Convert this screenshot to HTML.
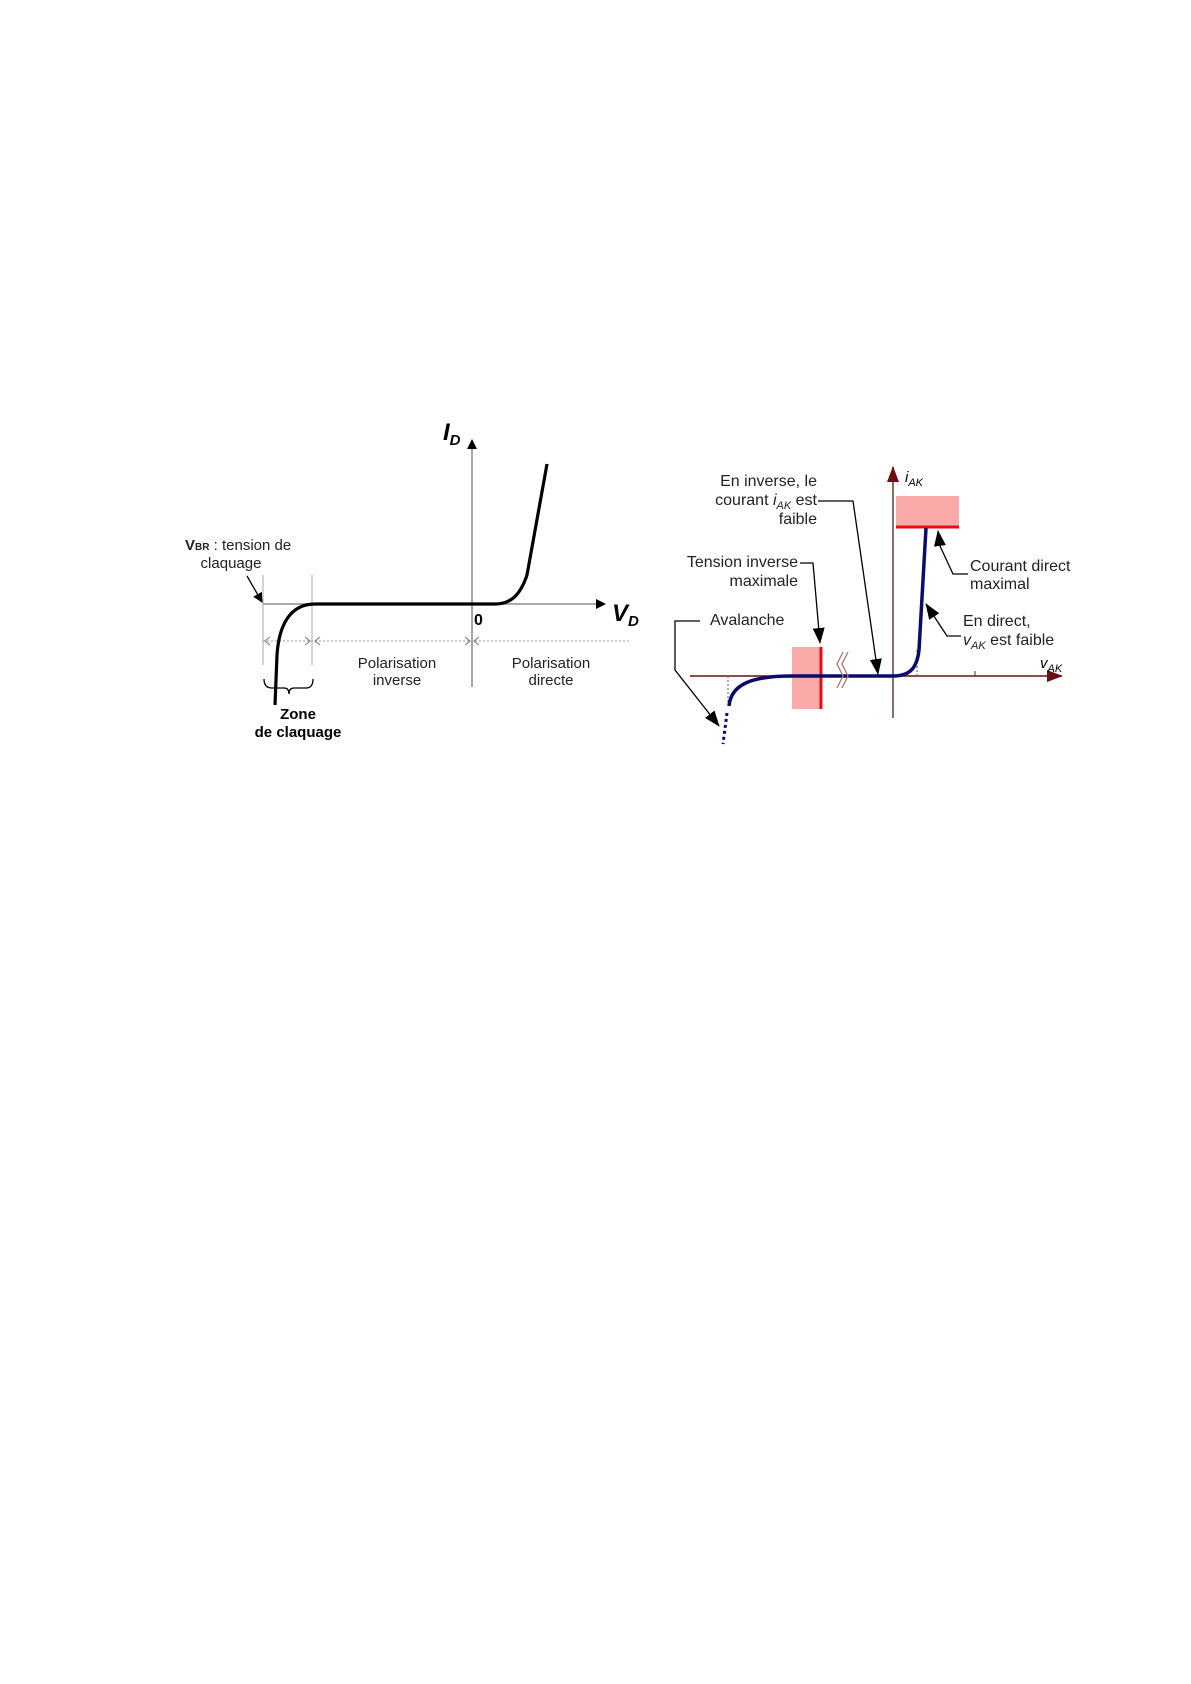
<!DOCTYPE html>
<html><head><meta charset="utf-8"><style>
html,body{margin:0;padding:0;background:#fff;}
svg{display:block;}
text{font-family:"Liberation Sans",sans-serif;}
</style></head><body>
<svg width="1191" height="1684" viewBox="0 0 1191 1684" xmlns="http://www.w3.org/2000/svg">
<defs>
<marker id="ab" markerWidth="10" markerHeight="10" refX="9" refY="5" orient="auto" markerUnits="userSpaceOnUse"><path d="M0,0 L10,5 L0,10 z" fill="#000"/></marker>
<marker id="ab2" markerWidth="16" markerHeight="12" refX="15" refY="6" orient="auto" markerUnits="userSpaceOnUse"><path d="M0,0 L16,6 L0,12 z" fill="#000"/></marker>
<marker id="ar" markerWidth="16" markerHeight="12" refX="15" refY="6" orient="auto" markerUnits="userSpaceOnUse"><path d="M0,0 L16,6 L0,12 z" fill="#6b1010"/></marker>
<marker id="ag" markerWidth="8" markerHeight="8" refX="7" refY="4" orient="auto" markerUnits="userSpaceOnUse"><path d="M0,0 L7,4 L0,8" fill="none" stroke="#777"/></marker>
</defs>
<!-- LEFT CHART -->
<line x1="472" y1="687" x2="472" y2="440" stroke="#777" stroke-width="1.3" marker-end="url(#ab)"/>
<line x1="263" y1="604" x2="605" y2="604" stroke="#777" stroke-width="1.3" marker-end="url(#ab)"/>
<line x1="263" y1="575" x2="263" y2="665" stroke="#aaa" stroke-width="1"/>
<line x1="312" y1="575" x2="312" y2="665" stroke="#aaa" stroke-width="1"/>
<line x1="263" y1="641" x2="630" y2="641" stroke="#999" stroke-width="1" stroke-dasharray="2,2"/>
<g stroke="#777" fill="none" stroke-width="1"><path d="M270,637 L265,641 L270,645"/><path d="M305,637 L310,641 L305,645"/><path d="M320,637 L315,641 L320,645"/><path d="M465,637 L470,641 L465,645"/><path d="M479,637 L474,641 L479,645"/></g>
<path d="M275,705 L277,655 C279,625 290,604 315,604 L495,604 C510,604 520,596 527,575 L547,464" fill="none" stroke="#000" stroke-width="3.2"/>
<line x1="247" y1="576" x2="262" y2="602" stroke="#000" stroke-width="1.3" marker-end="url(#ab)"/>
<path d="M264,679 Q264,688 272,688 L284,688 Q289,688 289,694 Q289,688 294,688 L306,688 Q313,688 313,679" fill="none" stroke="#000" stroke-width="1.3"/>
<text x="443" y="440" font-size="24" font-style="italic" font-weight="bold">I<tspan font-size="15" dy="5">D</tspan></text>
<text x="612" y="621" font-size="24" font-style="italic" font-weight="bold">V<tspan font-size="15" dy="5">D</tspan></text>
<text x="474" y="625" font-size="16" font-weight="bold">0</text>
<text x="185" y="550" font-size="15" fill="#222"><tspan font-weight="bold">V</tspan><tspan font-weight="bold" font-size="10">BR</tspan> : tension de</text>
<text x="231" y="568" font-size="15" fill="#222" text-anchor="middle">claquage</text>
<text x="397" y="668" font-size="15" fill="#222" text-anchor="middle">Polarisation</text>
<text x="397" y="685" font-size="15" fill="#222" text-anchor="middle">inverse</text>
<text x="551" y="668" font-size="15" fill="#222" text-anchor="middle">Polarisation</text>
<text x="551" y="685" font-size="15" fill="#222" text-anchor="middle">directe</text>
<text x="298" y="719" font-size="15" font-weight="bold" text-anchor="middle">Zone</text>
<text x="298" y="737" font-size="15" font-weight="bold" text-anchor="middle">de claquage</text>
<!-- RIGHT CHART -->
<line x1="690" y1="676" x2="1062" y2="676" stroke="#6b1010" stroke-width="1.5" marker-end="url(#ar)"/>
<line x1="893" y1="718" x2="893" y2="467" stroke="#8a6a6a" stroke-width="2" marker-end="url(#ar)"/>
<line x1="975" y1="671" x2="975" y2="676" stroke="#333"/>
<rect x="896" y="496" width="63" height="32" fill="#fbaaaa"/>
<line x1="896" y1="527" x2="959" y2="527" stroke="#e01010" stroke-width="3"/>
<rect x="792" y="647" width="30" height="62" fill="#fbaaaa"/>
<line x1="821" y1="647" x2="821" y2="709" stroke="#e01010" stroke-width="3"/>
<line x1="728" y1="676" x2="728" y2="705" stroke="#557" stroke-width="1" stroke-dasharray="2,2"/>
<line x1="917" y1="676" x2="917" y2="650" stroke="#557" stroke-width="1" stroke-dasharray="2,2"/>
<path d="M729,706 C731,685 750,676 792,676 L893,676 C910,676 917,668 919,650 L926,528" fill="none" stroke="#0b0b6b" stroke-width="3.5"/>
<path d="M727,713 L723,744" stroke="#0b0b6b" stroke-width="3" stroke-dasharray="3,3"/>
<g stroke="#b07070" fill="none" stroke-width="1.3"><path d="M843,652 L837,664 L843,676 L837,688"/><path d="M848,652 L842,664 L848,676 L842,688"/></g>
<text x="905" y="482" font-size="15" font-style="italic">i<tspan font-size="11" dy="4">AK</tspan></text>
<text x="1040" y="668" font-size="15" font-style="italic">v<tspan font-size="11" dy="4">AK</tspan></text>
<g font-size="16" fill="#222">
<text x="817" y="486" text-anchor="end">En inverse, le</text>
<text x="817" y="505" text-anchor="end">courant <tspan font-style="italic">i</tspan><tspan font-size="11" font-style="italic" dy="4">AK</tspan><tspan dy="-4"> est</tspan></text>
<text x="817" y="524" text-anchor="end">faible</text>
<text x="798" y="567" text-anchor="end">Tension inverse</text>
<text x="798" y="586" text-anchor="end">maximale</text>
<text x="710" y="625">Avalanche</text>
<text x="970" y="571">Courant direct</text>
<text x="970" y="589">maximal</text>
<text x="963" y="626">En direct,</text>
<text x="963" y="645"><tspan font-style="italic">v</tspan><tspan font-size="11" font-style="italic" dy="4">AK</tspan><tspan dy="-4"> est faible</tspan></text>
</g>
<g stroke="#000" stroke-width="1.3" fill="none">
<path d="M818,501 L853,501 L878,674" marker-end="url(#ab2)"/>
<path d="M800,563 L813,563 L820,643" marker-end="url(#ab2)"/>
<path d="M700,621 L675,621 L675,670 L719,726" marker-end="url(#ab2)"/>
<path d="M968,574 L953,574 L940,546 L938,531" marker-end="url(#ab2)"/>
<path d="M961,636 L947,636 L926,604" marker-end="url(#ab2)"/>
</g>
</svg>
</body></html>
